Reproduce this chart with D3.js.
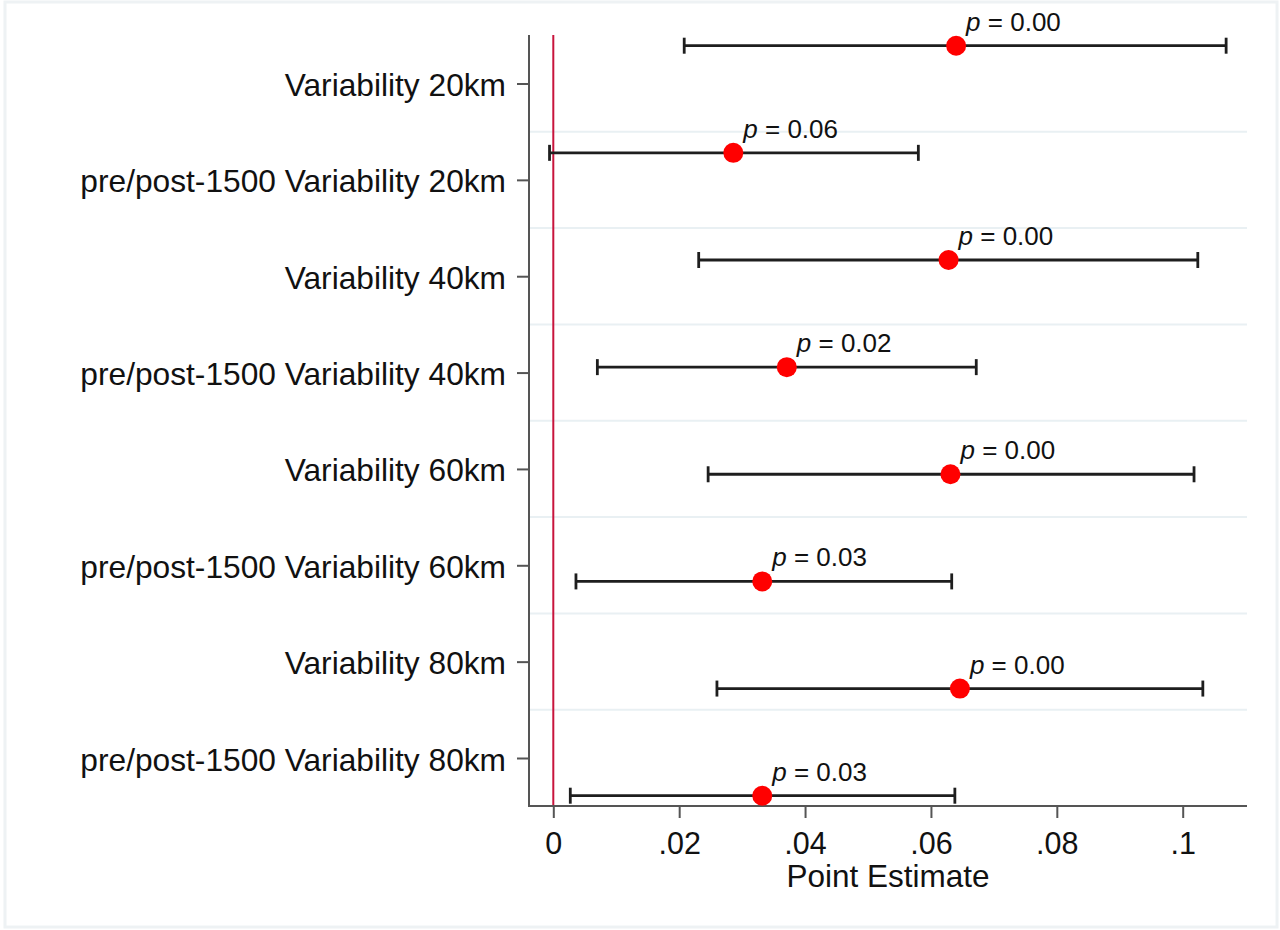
<!DOCTYPE html>
<html>
<head>
<meta charset="utf-8">
<script src="https://cdn.jsdelivr.net/npm/d3@7"></script>
<style>
  html, body { margin: 0; padding: 0; background: #ffffff; }
  svg { display: block; font-family: "Liberation Sans", Arial, sans-serif; }
</style>
</head>
<body>
<svg id="chart" width="1280" height="930"></svg>
<script>
// ---- data ----
const categories = [
  "Variability 20km",
  "pre/post-1500 Variability 20km",
  "Variability 40km",
  "pre/post-1500 Variability 40km",
  "Variability 60km",
  "pre/post-1500 Variability 60km",
  "Variability 80km",
  "pre/post-1500 Variability 80km"
];
const estimates = [0.0640, 0.0286, 0.0628, 0.0371, 0.0631, 0.0332, 0.0646, 0.0332];
const ciLower   = [0.0208, -0.0006, 0.0231, 0.0070, 0.0246, 0.0036, 0.0260, 0.0027];
const ciUpper   = [0.1069, 0.0580, 0.1024, 0.0672, 0.1018, 0.0633, 0.1032, 0.0638];
const pValues   = ["0.00", "0.06", "0.00", "0.02", "0.00", "0.03", "0.00", "0.03"];
const xTicks    = [0, 0.02, 0.04, 0.06, 0.08, 0.1];
const xTickLabels = ["0", ".02", ".04", ".06", ".08", ".1"];
const xTitle = "Point Estimate";
const refLine = 0;

// ---- layout ----
const svg = d3.select("#chart");
const plotLeft = 529, plotRight = 1247, plotTop = 35, plotBottom = 806;

// outer frame
svg.append("rect").attr("x", 5).attr("y", 2).attr("width", 1272).attr("height", 925)
  .attr("fill", "#ffffff").attr("stroke", "#eef2f4").attr("stroke-width", 3);

const x = d3.scaleLinear().domain([0, 0.1]).range([553.3, 1182.7]);
const yMark = d3.scalePoint().domain(categories).range([45.7, 795.7]);
const yTick = d3.scalePoint().domain(categories).range([83.5, 758]);

// gridlines between tick labels
const gridYs = categories.slice(0, -1).map((c, i) => (yTick(c) + yTick(categories[i + 1])) / 2);
svg.append("g").selectAll("line").data(gridYs).join("line")
  .attr("x1", plotLeft + 1).attr("x2", plotRight)
  .attr("y1", d => d).attr("y2", d => d)
  .attr("stroke", "#e9f0f3").attr("stroke-width", 2);

// reference line at 0
svg.append("line")
  .attr("x1", x(refLine)).attr("x2", x(refLine))
  .attr("y1", plotTop).attr("y2", plotBottom)
  .attr("stroke", "#c8143c").attr("stroke-width", 2);

// y axis
const yAxis = d3.axisLeft(yTick).tickSize(12).tickPadding(11);
const gy = svg.append("g").attr("transform", `translate(${plotLeft},0)`).call(yAxis);
gy.select(".domain").remove();
gy.selectAll(".tick line").attr("stroke", "#555").attr("stroke-width", 2);
gy.selectAll(".tick text").attr("fill", "#111").attr("dy", "0.38em").style("font-size", "31.7px")
  .style("font-family", '"Liberation Sans", Arial, sans-serif');
svg.append("line").attr("x1", plotLeft).attr("x2", plotLeft)
  .attr("y1", plotTop).attr("y2", plotBottom + 1)
  .attr("stroke", "#555").attr("stroke-width", 2);

// x axis
const xAxis = d3.axisBottom(x).tickValues(xTicks)
  .tickFormat((d, i) => xTickLabels[i]).tickSize(12).tickPadding(14);
const gx = svg.append("g").attr("transform", `translate(0,${plotBottom})`).call(xAxis);
gx.select(".domain").remove();
gx.selectAll(".tick line").attr("stroke", "#555").attr("stroke-width", 2);
gx.selectAll(".tick text").attr("fill", "#111").style("font-size", "30.5px")
  .style("font-family", '"Liberation Sans", Arial, sans-serif');
svg.append("line").attr("x1", plotLeft - 1).attr("x2", plotRight)
  .attr("y1", plotBottom).attr("y2", plotBottom)
  .attr("stroke", "#555").attr("stroke-width", 2);

svg.append("text").attr("x", (plotLeft + plotRight) / 2).attr("y", 887)
  .attr("text-anchor", "middle").attr("fill", "#111")
  .style("font-size", "31.5px").text(xTitle);

// error bars
const rows = categories.map((c, i) => ({ c, est: estimates[i], lo: ciLower[i], hi: ciUpper[i], p: pValues[i] }));
const g = svg.append("g");
g.selectAll("line.ci").data(rows).join("line").attr("class", "ci")
  .attr("x1", d => x(d.lo)).attr("x2", d => x(d.hi))
  .attr("y1", d => yMark(d.c)).attr("y2", d => yMark(d.c))
  .attr("stroke", "#1e1e1e").attr("stroke-width", 2.8);
g.selectAll("line.capl").data(rows).join("line").attr("class", "capl")
  .attr("x1", d => x(d.lo)).attr("x2", d => x(d.lo))
  .attr("y1", d => yMark(d.c) - 8).attr("y2", d => yMark(d.c) + 8)
  .attr("stroke", "#1e1e1e").attr("stroke-width", 2.8);
g.selectAll("line.caph").data(rows).join("line").attr("class", "caph")
  .attr("x1", d => x(d.hi)).attr("x2", d => x(d.hi))
  .attr("y1", d => yMark(d.c) - 8).attr("y2", d => yMark(d.c) + 8)
  .attr("stroke", "#1e1e1e").attr("stroke-width", 2.8);

// points
g.selectAll("circle").data(rows).join("circle")
  .attr("cx", d => x(d.est)).attr("cy", d => yMark(d.c)).attr("r", 10)
  .attr("fill", "#ff0000");

// p labels
const pl = g.selectAll("text.pl").data(rows).join("text").attr("class", "pl")
  .attr("x", d => x(d.est) + 10).attr("y", d => yMark(d.c) - 15)
  .attr("fill", "#111").style("font-size", "26px");
pl.append("tspan").style("font-style", "italic").text("p");
pl.append("tspan").text(d => " = " + d.p);
</script>
</body>
</html>
